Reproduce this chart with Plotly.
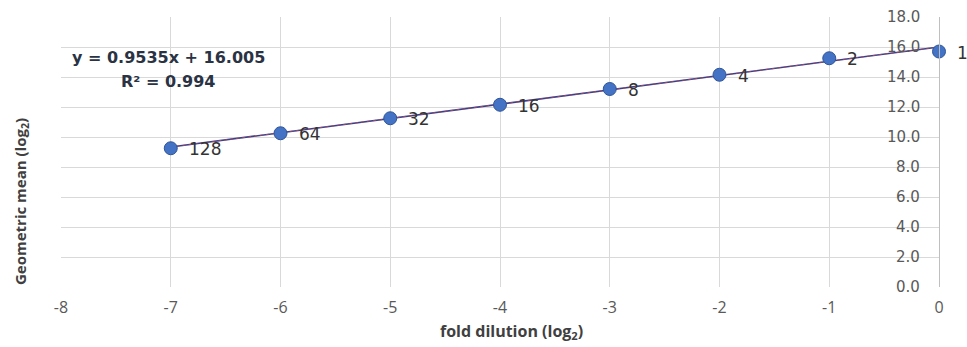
import plotly.graph_objects as go

# Serial dilution data: log2 fold dilution vs. log2 geometric mean
fold_dilution_log2 = [-7, -6, -5, -4, -3, -2, -1, 0]
geo_mean_log2 = [9.25, 10.25, 11.25, 12.15, 13.2, 14.15, 15.25, 15.7]
dilution_labels = ["128", "64", "32", "16", "8", "4", "2", "1"]

# Linear trendline coefficients
slope = 0.9535
intercept = 16.005
r_squared = 0.994

x_ticks = [-8, -7, -6, -5, -4, -3, -2, -1, 0]
y_ticks = [0, 2, 4, 6, 8, 10, 12, 14, 16, 18]

x_tick_font = dict(family="Open Sans", size=16, color="#595959")
y_tick_font = dict(family="DejaVu Sans", size=15, color="#595959")
grid = "#d9d9d9"

fig = go.Figure()

# Trendline drawn from the fitted equation
trend_x = [min(fold_dilution_log2), max(fold_dilution_log2)]
trend_y = [slope * v + intercept for v in trend_x]
fig.add_trace(go.Scatter(
    x=trend_x, y=trend_y, mode="lines",
    line=dict(color="#3b3f86", width=1.6),
    hoverinfo="skip", showlegend=False,
))
fig.add_trace(go.Scatter(
    x=trend_x, y=trend_y, mode="lines",
    line=dict(color="#b04a6a", width=0.8, dash="dot"),
    hoverinfo="skip", showlegend=False,
))

fig.add_trace(go.Scatter(
    x=fold_dilution_log2, y=geo_mean_log2, mode="markers",
    marker=dict(color="#4472c4", size=13, line=dict(color="#2f5597", width=1)),
    cliponaxis=False, showlegend=False,
))

# Dilution factor labels beside each point
for xv, yv, lab in zip(fold_dilution_log2, geo_mean_log2, dilution_labels):
    fig.add_annotation(
        x=xv, y=yv, text=lab, showarrow=False,
        xanchor="left", yanchor="middle", xshift=16, yshift=-1,
        font=dict(family="DejaVu Sans", size=17, color="#333333"),
    )

# Y tick labels sit just inside the right-hand axis
for yv in y_ticks:
    fig.add_annotation(
        x=0, y=yv, text=f"{yv:.1f}", showarrow=False,
        xanchor="right", yanchor="middle", xshift=-17,
        font=y_tick_font,
    )

# Trendline equation and R²
fig.add_annotation(
    xref="paper", yref="paper", x=0.122, y=(287 - 57) / 270,
    text=f"<b>y = {slope}x + {intercept:.3f}</b>",
    showarrow=False, xanchor="center", yanchor="middle",
    font=dict(family="DejaVu Sans", size=16, color="#2a3344"),
)
fig.add_annotation(
    xref="paper", yref="paper", x=0.122, y=(287 - 82) / 270,
    text=f"<b>R² = {r_squared}</b>",
    showarrow=False, xanchor="center", yanchor="middle",
    font=dict(family="DejaVu Sans", size=16, color="#2a3344"),
)

fig.update_layout(
    width=967, height=347,
    margin=dict(l=61, r=28, t=17, b=60),
    paper_bgcolor="white", plot_bgcolor="white",
    xaxis=dict(
        range=[-8, 0], tickvals=x_ticks, ticktext=[str(v) for v in x_ticks],
        showgrid=True, gridcolor=grid, gridwidth=1,
        zeroline=False, showline=False, tickfont=x_tick_font, ticks="",
        ticklabelstandoff=9,
    ),
    yaxis=dict(
        range=[0, 18], tickvals=y_ticks, showticklabels=False,
        side="right",
        showgrid=True, gridcolor=grid, gridwidth=1,
        zeroline=False, showline=True, linecolor="#bfbfbf", linewidth=1,
        ticks="",
    ),
)

# Axis titles
fig.add_annotation(
    xref="paper", yref="paper", x=(511 - 61) / 878, y=(287 - 331) / 270,
    text="fold dilution (log<sub>2</sub>)",
    showarrow=False, xanchor="center", yanchor="middle",
    font=dict(family="Open Sans", size=16, color="#404040", weight=700),
)
fig.add_annotation(
    xref="paper", yref="paper", x=(21 - 61) / 878, y=(287 - 202) / 270,
    text="Geometric mean (log<sub>2</sub>)", textangle=-90,
    showarrow=False, xanchor="center", yanchor="middle",
    font=dict(family="Open Sans", size=15, color="#404040", weight=700),
)

fig.write_html("out.html")
